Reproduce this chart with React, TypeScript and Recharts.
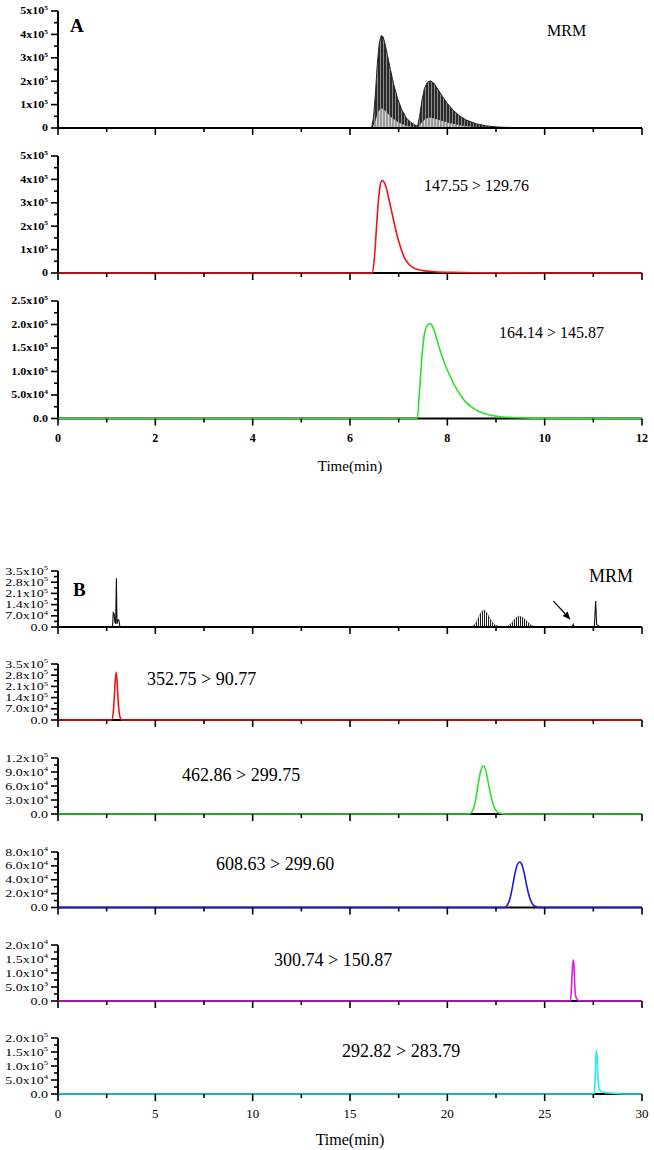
import type { ReactNode } from 'react'
import { Area, ComposedChart, Line, ReferenceLine, XAxis, YAxis } from 'recharts'

const FONT = '"Liberation Serif", "Times New Roman", serif'

type Pair = [number, number]
type Pt = { t: number; v: number }

// ---- axes ----
const aXTicks = [0, 1, 2, 3, 4, 5, 6, 7, 8, 9, 10, 11, 12]
const aXLabels = [0, 2, 4, 6, 8, 10, 12]
const bXTicks = [0, 2.5, 5, 7.5, 10, 12.5, 15, 17.5, 20, 22.5, 25, 27.5, 30]
const bXLabels = [0, 5, 10, 15, 20, 25, 30]

const a1YTicks = [0, 5e4, 1e5, 1.5e5, 2e5, 2.5e5, 3e5, 3.5e5, 4e5, 4.5e5, 5e5]
const a1YMajor = [0, 1e5, 2e5, 3e5, 4e5, 5e5]
const a1YLabels = ['0', '1x10^5', '2x10^5', '3x10^5', '4x10^5', '5x10^5']
const a3YTicks = [0, 2.5e4, 5e4, 7.5e4, 1e5, 1.25e5, 1.5e5, 1.75e5, 2e5, 2.25e5, 2.5e5]
const a3YMajor = [0, 5e4, 1e5, 1.5e5, 2e5, 2.5e5]
const a3YLabels = ['0.0', '5.0x10^4', '1.0x10^5', '1.5x10^5', '2.0x10^5', '2.5x10^5']

const b1YTicks = [0, 3.5e4, 7e4, 1.05e5, 1.4e5, 1.75e5, 2.1e5, 2.45e5, 2.8e5, 3.15e5, 3.5e5]
const b1YMajor = [0, 7e4, 1.4e5, 2.1e5, 2.8e5, 3.5e5]
const b1YLabels = ['0.0', '7.0x10^4', '1.4x10^5', '2.1x10^5', '2.8x10^5', '3.5x10^5']
const b3YTicks = [0, 1.5e4, 3e4, 4.5e4, 6e4, 7.5e4, 9e4, 1.05e5, 1.2e5]
const b3YMajor = [0, 3e4, 6e4, 9e4, 1.2e5]
const b3YLabels = ['0.0', '3.0x10^4', '6.0x10^4', '9.0x10^4', '1.2x10^5']
const b4YTicks = [0, 1e4, 2e4, 3e4, 4e4, 5e4, 6e4, 7e4, 8e4]
const b4YMajor = [0, 2e4, 4e4, 6e4, 8e4]
const b4YLabels = ['0.0', '2.0x10^4', '4.0x10^4', '6.0x10^4', '8.0x10^4']
const b5YTicks = [0, 2.5e3, 5e3, 7.5e3, 1e4, 1.25e4, 1.5e4, 1.75e4, 2e4]
const b5YMajor = [0, 5e3, 1e4, 1.5e4, 2e4]
const b5YLabels = ['0.0', '5.0x10^3', '1.0x10^4', '1.5x10^4', '2.0x10^4']
const b6YTicks = [0, 2.5e4, 5e4, 7.5e4, 1e5, 1.25e5, 1.5e5, 1.75e5, 2e5]
const b6YMajor = [0, 5e4, 1e5, 1.5e5, 2e5]
const b6YLabels = ['0.0', '5.0x10^4', '1.0x10^5', '1.5x10^5', '2.0x10^5']

// ---- traces (time min, intensity) ----
const a1Envelope: Pair[] = [
  [0, 0], [6.44, 0], [6.48, 4e4], [6.52, 1.4e5], [6.56, 2.7e5], [6.6, 3.6e5], [6.64, 3.95e5],
  [6.68, 3.9e5], [6.72, 3.6e5], [6.77, 3.1e5], [6.83, 2.5e5], [6.9, 1.85e5], [6.98, 1.25e5],
  [7.06, 8e4], [7.15, 4.5e4], [7.25, 2.4e4], [7.34, 1.2e4], [7.39, 8e3], [7.43, 5e4], [7.48, 1.2e5],
  [7.53, 1.7e5], [7.59, 1.95e5], [7.65, 2.02e5], [7.72, 1.92e5], [7.8, 1.68e5], [7.9, 1.35e5],
  [8.0, 1.05e5], [8.12, 7.6e4], [8.25, 5.2e4], [8.4, 3.3e4], [8.6, 1.8e4], [8.8, 9e3], [9.05, 4e3],
  [9.4, 1.6e3], [9.8, 6e2], [10.3, 0], [12, 0]
]
const a1Base: Pair[] = [
  [6.46, 0], [6.52, 3e4], [6.58, 7e4], [6.64, 8.5e4], [6.72, 7.5e4], [6.85, 4.5e4], [7.0, 2.3e4],
  [7.15, 1e4], [7.3, 4e3], [7.4, 2e3], [7.46, 2e4], [7.55, 4e4], [7.65, 4.5e4], [7.8, 3.6e4],
  [8.0, 2.4e4], [8.25, 1.2e4], [8.5, 5e3], [8.9, 1.5e3], [9.3, 0]
]
const a2Red: Pair[] = [
  [0, 0], [6.46, 0], [6.5, 6e4], [6.54, 1.8e5], [6.58, 3.0e5], [6.62, 3.75e5], [6.66, 3.95e5],
  [6.7, 3.88e5], [6.75, 3.6e5], [6.8, 3.15e5], [6.87, 2.5e5], [6.95, 1.75e5], [7.03, 1.15e5],
  [7.12, 6.5e4], [7.22, 3.5e4], [7.35, 1.8e4], [7.5, 1e4], [7.75, 5.5e3], [8.1, 3e3], [8.6, 1.2e3],
  [9.2, 4e2], [10, 0], [12, 0]
]
const a3Green: Pair[] = [
  [0, 0], [7.38, 0], [7.43, 6e4], [7.48, 1.35e5], [7.53, 1.8e5], [7.58, 1.97e5], [7.64, 2.02e5],
  [7.7, 1.95e5], [7.78, 1.7e5], [7.86, 1.42e5], [7.94, 1.18e5], [8.04, 9.4e4], [8.14, 7.2e4],
  [8.25, 5.3e4], [8.36, 3.7e4], [8.5, 2.4e4], [8.65, 1.5e4], [8.82, 8.5e3], [9.05, 4.2e3],
  [9.35, 2e3], [9.7, 9e2], [10.2, 3e2], [12, 0]
]
const b1Spikes: Pair[] = [
  [0, 0], [2.8, 0], [2.84, 9e4], [2.88, 8.5e4], [2.92, 3e4], [2.96, 2e4], [3.0, 3.05e5], [3.03, 2e4],
  [3.07, 4.5e4], [3.12, 4.5e4], [3.18, 5e3], [3.25, 0], [26.4, 0], [26.47, 1.6e4], [26.52, 0],
  [27.55, 0], [27.62, 1.63e5], [27.67, 1.5e4], [27.8, 5e3], [28.4, 2e3], [28.8, 0], [30, 0]
]
const b1Humps: Pair[] = [
  [21.2, 0], [21.4, 1.5e4], [21.55, 4.5e4], [21.7, 8.5e4], [21.88, 1.05e5], [22.05, 8.5e4],
  [22.2, 5e4], [22.4, 1.8e4], [22.6, 5e3], [22.85, 0], [23.0, 0], [23.1, 4e3], [23.3, 2.5e4],
  [23.5, 5.5e4], [23.7, 6.7e4], [23.9, 5.6e4], [24.1, 3.5e4], [24.3, 1.2e4], [24.5, 3e3], [24.7, 0]
]
const b2Red: Pair[] = [
  [0, 0], [2.76, 0], [2.84, 5e4], [2.9, 1.6e5], [2.95, 2.6e5], [2.99, 2.98e5], [3.03, 2.5e5],
  [3.08, 1.4e5], [3.14, 5e4], [3.2, 1.2e4], [3.27, 0], [30, 0]
]
const b3Green: Pair[] = [
  [0, 0], [21.12, 0], [21.25, 4e3], [21.38, 1.6e4], [21.5, 4.2e4], [21.62, 7.3e4], [21.74, 9.6e4],
  [21.86, 1.03e5], [21.97, 9.4e4], [22.08, 7.2e4], [22.2, 4.6e4], [22.33, 2.4e4], [22.46, 1.0e4],
  [22.6, 3.5e3], [22.8, 8e2], [23, 0], [30, 0]
]
const b4Blue: Pair[] = [
  [0, 0], [22.95, 0], [23.1, 4e3], [23.23, 1.4e4], [23.36, 3.2e4], [23.48, 5.0e4], [23.6, 6.2e4],
  [23.72, 6.55e4], [23.84, 6.1e4], [23.96, 4.8e4], [24.08, 3.1e4], [24.2, 1.7e4], [24.33, 7e3],
  [24.47, 2.2e3], [24.65, 4e2], [24.8, 0], [30, 0]
]
const b5Magenta: Pair[] = [
  [0, 0], [26.32, 0], [26.37, 4e3], [26.42, 1.1e4], [26.47, 1.47e4], [26.51, 1.2e4], [26.55, 5e3],
  [26.6, 1.5e3], [26.7, 4e2], [26.8, 0], [30, 0]
]
const b6Cyan: Pair[] = [
  [0, 0], [27.54, 0], [27.58, 3e4], [27.62, 1.2e5], [27.66, 1.56e5], [27.7, 1.2e5], [27.74, 5.5e4],
  [27.8, 2e4], [27.9, 9e3], [28.1, 5e3], [28.4, 3e3], [28.8, 1e3], [29.1, 0], [30, 0]
]

const pts = (d: Pair[]): Pt[] => d.map(([t, v]) => ({ t, v }))

function TickText({ label, x, y, size, bold, squash }: any) {
  const [base, exp] = label.split('^')
  return (
    <text
      transform={`translate(${x},${y}) scale(1,${squash})`}
      textAnchor="end"
      fontFamily={FONT}
      fontSize={size}
      fontWeight={bold ? 'bold' : 'normal'}
      fill="#000"
      dy={size * 0.34}
    >
      <tspan>{base}</tspan>
      {exp && (
        <tspan dy={-size * 0.42} fontSize={size * 0.62}>
          {exp}
        </tspan>
      )}
    </text>
  )
}

type PanelProps = {
  top: number
  plotH: number
  big: boolean
  showX: boolean
  xMax: number
  xTicks: number[]
  xLabels: number[]
  yMax: number
  yTicks: number[]
  yMajor: number[]
  yLabels: string[]
  children: ReactNode
}

function Panel(p: PanelProps) {
  const mt = 12
  const xh = p.showX ? 34 : 10
  const h = mt + p.plotH + xh
  return (
    <div style={{ position: 'absolute', left: 0, top: p.top - mt, width: 654, height: h }}>
      <ComposedChart width={654} height={h} margin={{ top: mt, right: 12, bottom: 0, left: 0 }}>
        <defs>
          <pattern id="hatchDark" width="3" height="4" patternUnits="userSpaceOnUse">
            <rect width="3" height="4" fill="#2a2a2a" />
            <rect x="2" width="1" height="4" fill="#8a8a8a" />
          </pattern>
          <pattern id="hatchLight" width="3" height="4" patternUnits="userSpaceOnUse">
            <rect width="3" height="4" fill="#9a9a9a" />
            <rect x="1" width="1" height="4" fill="#d6d6d6" />
          </pattern>
          <pattern id="hatchLines" width="2" height="4" patternUnits="userSpaceOnUse">
            <rect width="2" height="4" fill="#ffffff" />
            <rect width="1" height="4" fill="#1a1a1a" />
          </pattern>
        </defs>
        <XAxis
          type="number"
          dataKey="t"
          domain={[0, p.xMax]}
          ticks={p.xTicks}
          interval={0}
          height={xh}
          tickSize={0}
          tickMargin={0}
          tickLine={false}
          axisLine={{ stroke: '#000', strokeWidth: 2 }}
          tick={(t: any) => {
            const major = p.xLabels.includes(t.payload.value)
            return (
              <g>
                <line x1={t.x} x2={t.x} y1={t.y} y2={t.y + (major ? 7 : 4)} stroke="#000" strokeWidth={1.6} />
                {p.showX && major && (
                  <text
                    x={t.x}
                    y={t.y + (p.big ? 24 : 23)}
                    textAnchor="middle"
                    fontFamily={FONT}
                    fontSize={p.big ? 13 : 12}
                    fontWeight={p.big ? 'normal' : 'bold'}
                    fill="#000"
                  >
                    {t.payload.value}
                  </text>
                )}
              </g>
            )
          }}
        />
        <YAxis
          type="number"
          dataKey="v"
          domain={[0, p.yMax]}
          ticks={p.yTicks}
          interval={0}
          width={58}
          tickSize={0}
          tickMargin={0}
          tickLine={false}
          axisLine={{ stroke: '#000', strokeWidth: 2 }}
          tick={(t: any) => {
            const i = p.yMajor.indexOf(t.payload.value)
            return (
              <g>
                <line x1={t.x - (i >= 0 ? 7 : 4)} x2={t.x} y1={t.y} y2={t.y} stroke="#000" strokeWidth={1.6} />
                {i >= 0 && (
                  <TickText
                    label={p.yLabels[i]}
                    x={t.x - 10}
                    y={t.y}
                    size={p.big ? 14 : 12}
                    bold={!p.big}
                    squash={p.big ? 0.75 : 0.85}
                  />
                )}
              </g>
            )
          }}
        />
        {p.children}
      </ComposedChart>
    </div>
  )
}

const Arrow = (s: any) => {
  const { x1, y1, x2, y2 } = s
  const ang = Math.atan2(y2 - y1, x2 - x1)
  const L = 8
  const W = 3.2
  const bx = x2 - L * Math.cos(ang)
  const by = y2 - L * Math.sin(ang)
  const px = -Math.sin(ang) * W
  const py = Math.cos(ang) * W
  return (
    <g>
      <line x1={x1} y1={y1} x2={bx} y2={by} stroke="#000" strokeWidth={1.2} />
      <polygon points={`${x2},${y2} ${bx + px},${by + py} ${bx - px},${by - py}`} fill="#000" />
    </g>
  )
}

// lines sit above the axis so the coloured baseline covers the black x axis
const lineProps = {
  dataKey: 'v',
  dot: false,
  isAnimationActive: false,
  strokeWidth: 1.6,
  type: 'monotone' as const,
  zIndex: 700
}

export default function App() {
  const textStyle = { fontFamily: FONT, fill: '#000' }
  return (
    <div style={{ position: 'absolute', left: 0, top: 0, width: 654, height: 1150, background: '#fff' }}>
      {/* A */}
      <Panel top={11} plotH={117} big={false} showX={false} xMax={12} xTicks={aXTicks} xLabels={aXLabels}
        yMax={5e5} yTicks={a1YTicks} yMajor={a1YMajor} yLabels={a1YLabels}>
        <Area data={pts(a1Envelope)} dataKey="v" type="linear" stroke="#262626" strokeWidth={1}
          fill="url(#hatchDark)" fillOpacity={1} isAnimationActive={false} />
        <Area data={pts(a1Base)} dataKey="v" type="linear" stroke="none"
          fill="url(#hatchLight)" fillOpacity={1} isAnimationActive={false} />
      </Panel>
      <Panel top={155.5} plotH={117} big={false} showX={false} xMax={12} xTicks={aXTicks} xLabels={aXLabels}
        yMax={5e5} yTicks={a1YTicks} yMajor={a1YMajor} yLabels={a1YLabels}>
        <Line data={pts(a2Red)} stroke="#f01414" {...lineProps} />
      </Panel>
      <Panel top={300.5} plotH={117.5} big={false} showX={true} xMax={12} xTicks={aXTicks} xLabels={aXLabels}
        yMax={2.5e5} yTicks={a3YTicks} yMajor={a3YMajor} yLabels={a3YLabels}>
        <Line data={pts(a3Green)} stroke="#2ee02e" {...lineProps} />
      </Panel>

      {/* B */}
      <Panel top={571} plotH={56} big={true} showX={false} xMax={30} xTicks={bXTicks} xLabels={bXLabels}
        yMax={3.5e5} yTicks={b1YTicks} yMajor={b1YMajor} yLabels={b1YLabels}>
        <Area data={pts(b1Humps)} dataKey="v" type="monotone" stroke="#555" strokeWidth={0.6}
          fill="url(#hatchLines)" fillOpacity={1} isAnimationActive={false} />
        <Line data={pts(b1Spikes)} dataKey="v" type="linear" stroke="#111" strokeWidth={1.1}
          dot={false} isAnimationActive={false} />
        <ReferenceLine segment={[{ x: 25.45, y: 1.62e5 }, { x: 26.33, y: 4.6e4 }]} shape={Arrow} ifOverflow="visible" />
      </Panel>
      <Panel top={664} plotH={56} big={true} showX={false} xMax={30} xTicks={bXTicks} xLabels={bXLabels}
        yMax={3.5e5} yTicks={b1YTicks} yMajor={b1YMajor} yLabels={b1YLabels}>
        <Line data={pts(b2Red)} stroke="#f01414" {...lineProps} />
      </Panel>
      <Panel top={758} plotH={56} big={true} showX={false} xMax={30} xTicks={bXTicks} xLabels={bXLabels}
        yMax={1.2e5} yTicks={b3YTicks} yMajor={b3YMajor} yLabels={b3YLabels}>
        <Line data={pts(b3Green)} stroke="#2ee02e" {...lineProps} />
      </Panel>
      <Panel top={851.5} plotH={55.5} big={true} showX={false} xMax={30} xTicks={bXTicks} xLabels={bXLabels}
        yMax={8e4} yTicks={b4YTicks} yMajor={b4YMajor} yLabels={b4YLabels}>
        <Line data={pts(b4Blue)} stroke="#1c1cd2" {...lineProps} />
      </Panel>
      <Panel top={944.5} plotH={56} big={true} showX={false} xMax={30} xTicks={bXTicks} xLabels={bXLabels}
        yMax={2e4} yTicks={b5YTicks} yMajor={b5YMajor} yLabels={b5YLabels}>
        <Line data={pts(b5Magenta)} stroke="#e01ee0" {...lineProps} />
      </Panel>
      <Panel top={1038} plotH={56} big={true} showX={true} xMax={30} xTicks={bXTicks} xLabels={bXLabels}
        yMax={2e5} yTicks={b6YTicks} yMajor={b6YMajor} yLabels={b6YLabels}>
        <Line data={pts(b6Cyan)} stroke="#22eeee" {...lineProps} />
      </Panel>

      {/* annotations */}
      <svg width={654} height={1150} style={{ position: 'absolute', left: 0, top: 0, pointerEvents: 'none' }}>
        <text x={70} y={32} fontSize={19} fontWeight="bold" {...textStyle}>A</text>
        <text x={547} y={36} fontSize={16} {...textStyle}>MRM</text>
        <text x={424} y={191} fontSize={16} {...textStyle}>147.55 &gt; 129.76</text>
        <text x={499} y={338} fontSize={16} {...textStyle}>164.14 &gt; 145.87</text>
        <text x={350} y={471} fontSize={15} textAnchor="middle" {...textStyle}>Time(min)</text>

        <text x={73} y={596} fontSize={19} fontWeight="bold" {...textStyle}>B</text>
        <text x={589} y={581.5} fontSize={18} {...textStyle}>MRM</text>
        <text x={147} y={685} fontSize={18} {...textStyle}>352.75 &gt; 90.77</text>
        <text x={182} y={780.5} fontSize={18} {...textStyle}>462.86 &gt; 299.75</text>
        <text x={216} y={870} fontSize={18} {...textStyle}>608.63 &gt; 299.60</text>
        <text x={274} y={966} fontSize={18} {...textStyle}>300.74 &gt; 150.87</text>
        <text x={342} y={1056.5} fontSize={18} {...textStyle}>292.82 &gt; 283.79</text>
        <text x={350} y={1145} fontSize={16} textAnchor="middle" {...textStyle}>Time(min)</text>
      </svg>
    </div>
  )
}
